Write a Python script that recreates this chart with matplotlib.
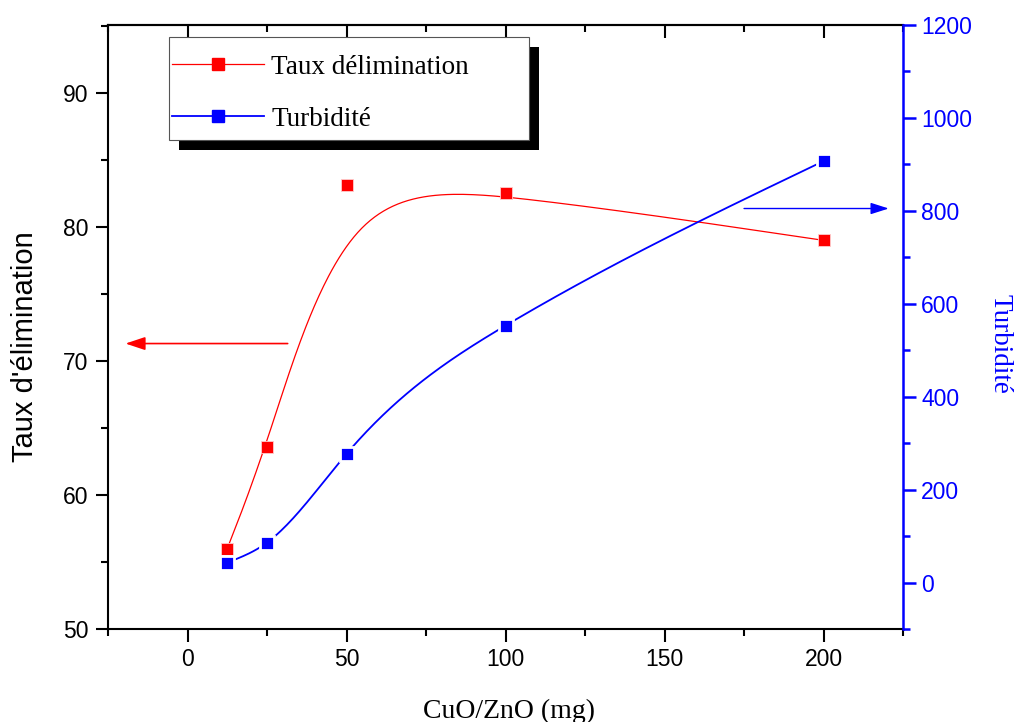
import numpy as np
import matplotlib
matplotlib.use("Agg")
import matplotlib.pyplot as plt
from matplotlib.lines import Line2D
from matplotlib.patches import Rectangle
from matplotlib.ticker import MultipleLocator

# Données
dose = [12.5, 25, 50, 100, 200]                 # CuO/ZnO (mg)
taux = [56.0, 63.6, 83.1, 82.5, 79.0]           # Taux d'élimination
turbidite = [43, 86, 277, 553, 907]             # Turbidité

SANS = "Liberation Sans"
SERIF = "Liberation Serif"


def bspline(px, py, n=60):
    # B-spline cubique uniforme, extrémités triplées (points = points de contrôle)
    P = np.column_stack([px, py]).astype(float)
    Q = np.vstack([P[:1], P[:1], P, P[-1:], P[-1:]])
    t = np.linspace(0, 1, n)
    b0 = (1 - t) ** 3 / 6
    b1 = (3 * t**3 - 6 * t**2 + 4) / 6
    b2 = (-3 * t**3 + 3 * t**2 + 3 * t + 1) / 6
    b3 = t**3 / 6
    pts = []
    for i in range(len(Q) - 3):
        seg = (np.outer(b0, Q[i]) + np.outer(b1, Q[i + 1])
               + np.outer(b2, Q[i + 2]) + np.outer(b3, Q[i + 3]))
        pts.append(seg)
    pts = np.vstack(pts)
    return pts[:, 0], pts[:, 1]


def natural_spline(x, y, n=300):
    x, y = np.asarray(x, float), np.asarray(y, float)
    m = len(x)
    h = np.diff(x)
    A = np.zeros((m, m))
    r = np.zeros(m)
    A[0, 0] = A[-1, -1] = 1
    for i in range(1, m - 1):
        A[i, i - 1] = h[i - 1]
        A[i, i] = 2 * (h[i - 1] + h[i])
        A[i, i + 1] = h[i]
        r[i] = 6 * ((y[i + 1] - y[i]) / h[i] - (y[i] - y[i - 1]) / h[i - 1])
    M = np.linalg.solve(A, r)
    xs = np.linspace(x[0], x[-1], n)
    j = np.clip(np.searchsorted(x, xs) - 1, 0, m - 2)
    a = x[j + 1] - xs
    b = xs - x[j]
    hj = h[j]
    ys = (M[j] * a**3 + M[j + 1] * b**3) / (6 * hj) \
        + (y[j] / hj - M[j] * hj / 6) * a + (y[j + 1] / hj - M[j + 1] * hj / 6) * b
    return xs, ys


fig = plt.figure(figsize=(10.15, 7.22), dpi=100)
ax = fig.add_axes([0.1064, 0.1288, 0.7833, 0.8366])
ax2 = ax.twinx()

# courbes
rx, ry = bspline(dose, taux)
ax.plot(rx, ry, color="red", lw=0.9, zorder=2)
ax.plot(dose, taux, "s", color="red", ms=8.6, mec="#ffcccc", mew=0.6, zorder=3)

bx, by = natural_spline(dose, turbidite)
ax2.plot(bx, by, color="blue", lw=1.3, zorder=2)
ax2.plot(dose, turbidite, "s", color="blue", ms=10.6, mec="white", mew=2.0, zorder=3)

# axes
ax.set_xlim(-25, 225)
ax.set_ylim(50, 95.07)
ax2.set_ylim(-100, 1200)

ax.xaxis.set_major_locator(MultipleLocator(50))
ax.xaxis.set_minor_locator(MultipleLocator(25))
ax.yaxis.set_major_locator(MultipleLocator(10))
ax.yaxis.set_minor_locator(MultipleLocator(5))
ax2.yaxis.set_major_locator(MultipleLocator(200))
ax2.yaxis.set_minor_locator(MultipleLocator(100))

for s in ["left", "bottom", "top"]:
    ax.spines[s].set_linewidth(1.5)
ax.spines["right"].set_visible(False)
for s in ["left", "bottom", "top"]:
    ax2.spines[s].set_visible(False)
ax2.spines["right"].set_color("blue")
ax2.spines["right"].set_linewidth(1.8)

ax.tick_params(which="major", length=9, width=1.5, direction="out", labelsize=16.5, pad=5)
ax.tick_params(which="minor", length=5, width=1.5, direction="out")
ax.tick_params(axis="x", which="major", pad=4.5)
ax2.tick_params(which="major", length=9, width=1.8, color="blue", labelcolor="blue",
                labelsize=16.5, pad=4)
ax2.tick_params(which="minor", length=5, width=1.8, color="blue")

top = ax.secondary_xaxis("top")
top.xaxis.set_major_locator(MultipleLocator(50))
top.xaxis.set_minor_locator(MultipleLocator(25))
top.tick_params(which="major", direction="in", length=9, width=1.5, labeltop=False)
top.tick_params(which="minor", direction="in", length=5, width=1.5)
top.spines["top"].set_linewidth(1.5)

for lab in ax.get_xticklabels() + ax.get_yticklabels() + ax2.get_yticklabels():
    lab.set_fontfamily(SANS)

# titres des axes
ax.text(-0.1044, 0.467, "Taux d'élimination", transform=ax.transAxes, rotation=90,
        ha="center", va="center", fontsize=21, family=SANS)
ax.text(0.504, -0.136, "CuO/ZnO (mg)", transform=ax.transAxes,
        ha="center", va="center", fontsize=20, family=SERIF)
ax.text(1.122, 0.472, "Turbidité", transform=ax.transAxes, rotation=-90, color="blue",
        ha="center", va="center", fontsize=19.5, family=SERIF)

# flèches
ax.annotate("", xy=(-19.5, 71.3), xytext=(31.5, 71.3),
            arrowprops=dict(arrowstyle="-|>,head_length=1.2,head_width=0.4",
                            color="red", lw=1.2, shrinkA=0, shrinkB=0))
ax2.annotate("", xy=(220.5, 805), xytext=(175, 805),
             arrowprops=dict(arrowstyle="-|>,head_length=1.1,head_width=0.35",
                             color="blue", lw=1.0, shrinkA=0, shrinkB=0))

# légende avec ombre
ax2.add_patch(Rectangle((0.0893, 0.7930), 0.4529, 0.1704, transform=ax.transAxes,
                        facecolor="black", edgecolor="none", zorder=4.5, clip_on=False))
ax2.add_patch(Rectangle((0.0767, 0.8096), 0.4529, 0.1704, transform=ax.transAxes,
                        facecolor="white", edgecolor="#555555", lw=0.8, zorder=4.6,
                        clip_on=False))
handles = [
    Line2D([], [], color="red", lw=0.9, marker="s", ms=8.6, mec="red"),
    Line2D([], [], color="blue", lw=1.3, marker="s", ms=8.6, mec="blue"),
]
ax2.legend(handles, ["Taux délimination", "Turbidité"], loc="upper left",
           bbox_to_anchor=(0.0805, 0.951), bbox_transform=ax.transAxes,
           frameon=False, borderpad=0, borderaxespad=0, handlelength=3.4,
           handletextpad=0.26, labelspacing=1.0,
           prop={"family": SERIF, "size": 19.5})

fig.savefig("out.png", dpi=100)
